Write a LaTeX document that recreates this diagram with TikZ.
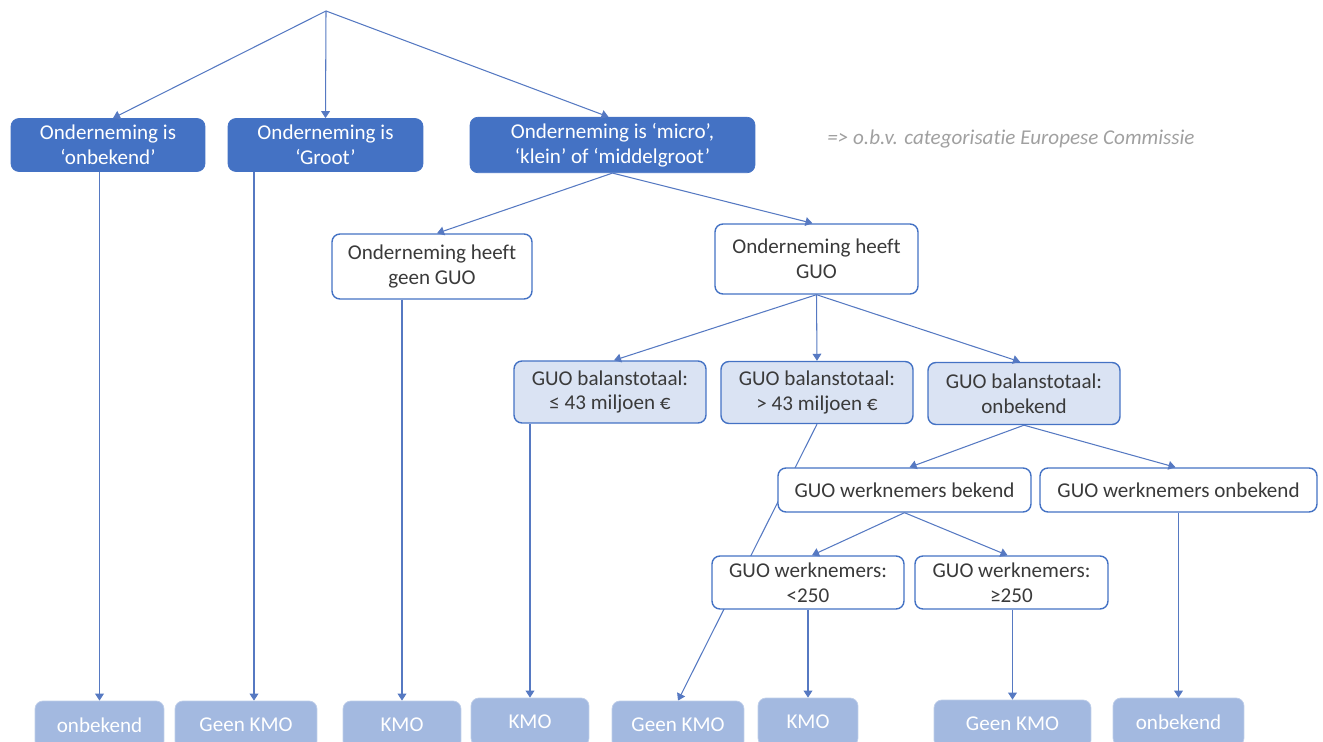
\documentclass[tikz,border=0pt]{standalone}
\usepackage{fontspec}
\setmainfont{Carlito}[Ligatures=NoCommon]
\usetikzlibrary{arrows.meta, positioning, backgrounds, calc}
\definecolor{sizeDark}{HTML}{4472C4}
\definecolor{balFill}{HTML}{DAE3F3}
\definecolor{leafFill}{HTML}{A3B9E0}
\definecolor{lineBlue}{HTML}{5679C2}
\definecolor{textDark}{HTML}{3A3A3A}
\definecolor{noteGray}{HTML}{A0A0A0}

\begin{document}
\begin{tikzpicture}[
    x=0.02cm, y=-0.02cm,
    every node/.style={font=\fontsize{12}{14.2}\selectfont, align=center},
    sizebox/.style={draw=sizeDark, fill=sizeDark, text=white,
                    rounded corners=4.5pt, minimum width=3.9cm,
                    minimum height=1.06cm},
    guobox/.style={draw=sizeDark, line width=0.8pt, fill=white,
                   text=textDark, rounded corners=4.5pt,
                   minimum width=3.84cm, minimum height=1.06cm},
    balbox/.style={guobox, fill=balFill, minimum height=1.24cm},
    leaf/.style={draw=leafFill!70!white, fill=leafFill, text=white,
                 rounded corners=4.5pt, minimum height=0.96cm},
    note/.style={text=noteGray, font=\fontsize{12}{14.2}\selectfont\itshape},
    arrow/.style={draw=lineBlue, line width=0.6pt,
                  -{Triangle[length=4pt, width=5pt]}},
]
\useasboundingbox (0,0) rectangle (1323,742);
\coordinate (root) at (326,11);

% Size categories
\node[sizebox, minimum width=3.88cm] (unknown) at (108,145) {Onderneming is\\‘onbekend’};
\node[sizebox] (large) at (325.5,145) {Onderneming is\\‘Groot’};
\node[sizebox, minimum width=5.7cm] (smeSize) at (612.5,145)
    {Onderneming is ‘micro’,\\‘klein’ of ‘middelgroot’};
\node[note] (ecNote) at (1011,139) {=> o.b.v. categorisatie Europese Commissie};

% GUO
\node[guobox, minimum width=4cm, minimum height=1.3cm] (noGuo) at (432,266.5)
    {Onderneming heeft\\geen GUO};
\node[guobox, minimum width=4.06cm, minimum height=1.4cm] (hasGuo) at (816.5,259)
    {Onderneming heeft\\GUO};

% Balance sheet total
\node[balbox] (balLow) at (610,392) {GUO balanstotaal:\\≤ 43 miljoen €};
\node[balbox] (balHigh) at (817,392.5) {GUO balanstotaal:\\> 43 miljoen €};
\node[balbox] (balUnknown) at (1024,393.5) {GUO balanstotaal:\\onbekend};

% Employees
\node[guobox, minimum width=5.06cm, minimum height=0.88cm] (empKnown) at (904.5,490)
    {GUO werknemers bekend};
\node[guobox, minimum width=5.54cm, minimum height=0.88cm] (empUnknown) at (1178.5,490)
    {GUO werknemers onbekend};
\node[guobox] (empLow) at (808,582.5) {GUO werknemers:\\<250};
\node[guobox, minimum width=3.86cm] (empHigh) at (1011.5,582.5) {GUO werknemers:\\≥250};

% Outcomes
\node[leaf, minimum width=2.58cm] (leafUnknownA) at (99.5,725) {onbekend};
\node[leaf, minimum width=2.84cm] (leafNoSmeA) at (246,725) {Geen KMO};
\node[leaf, minimum width=2.36cm] (leafSmeA) at (402,725) {KMO};
\node[leaf, minimum width=2.36cm] (leafSmeB) at (530,722) {KMO};
\node[leaf, minimum width=2.64cm] (leafNoSmeB) at (678,725) {Geen KMO};
\node[leaf, minimum width=2cm] (leafSmeC) at (808,722) {KMO};
\node[leaf, minimum width=3.14cm] (leafNoSmeC) at (1012.5,724) {Geen KMO};
\node[leaf, minimum width=2.62cm] (leafUnknownB) at (1178.5,722) {onbekend};

% Arrows
\draw[arrow] (root) -- ([xshift=0.1cm]unknown.north);
\draw[arrow] (root) -- (large.north);
\draw[arrow] (root) -- ([xshift=-0.08cm]smeSize.north);
\draw[arrow] (leafUnknownA.north |- unknown.south) -- (leafUnknownA.north);
\draw[arrow] ($(leafNoSmeA.north |- large.south)+(8,0)$) -- ($(leafNoSmeA.north)+(8,0)$);
\draw[arrow] (smeSize.south) -- ([xshift=0.1cm]noGuo.north);
\draw[arrow] (smeSize.south) -- ([xshift=-0.08cm]hasGuo.north);
\draw[arrow] (leafSmeA.north |- noGuo.south) -- (leafSmeA.north);
\draw[arrow] (hasGuo.south) -- ([xshift=0.08cm]balLow.north);
\draw[arrow] (hasGuo.south) -- (balHigh.north);
\draw[arrow] (hasGuo.south) -- ([xshift=-0.08cm]balUnknown.north);
\draw[arrow] (leafSmeB.north |- balLow.south) -- (leafSmeB.north);
\begin{scope}[on background layer]
\draw[arrow] (balHigh.south) -- (leafNoSmeB.north);
\end{scope}
\draw[arrow] (balUnknown.south) -- ([xshift=0.1cm]empKnown.north);
\draw[arrow] (balUnknown.south) -- ([xshift=-0.06cm]empUnknown.north);
\draw[arrow] (empKnown.south) -- ([xshift=0.08cm]empLow.north);
\draw[arrow] (empKnown.south) -- ([xshift=-0.08cm]empHigh.north);
\draw[arrow] (leafSmeC.north |- empLow.south) -- (leafSmeC.north);
\draw[arrow] (leafNoSmeC.north |- empHigh.south) -- (leafNoSmeC.north);
\draw[arrow] (leafUnknownB.north |- empUnknown.south) -- (leafUnknownB.north);
\end{tikzpicture}
\end{document}
